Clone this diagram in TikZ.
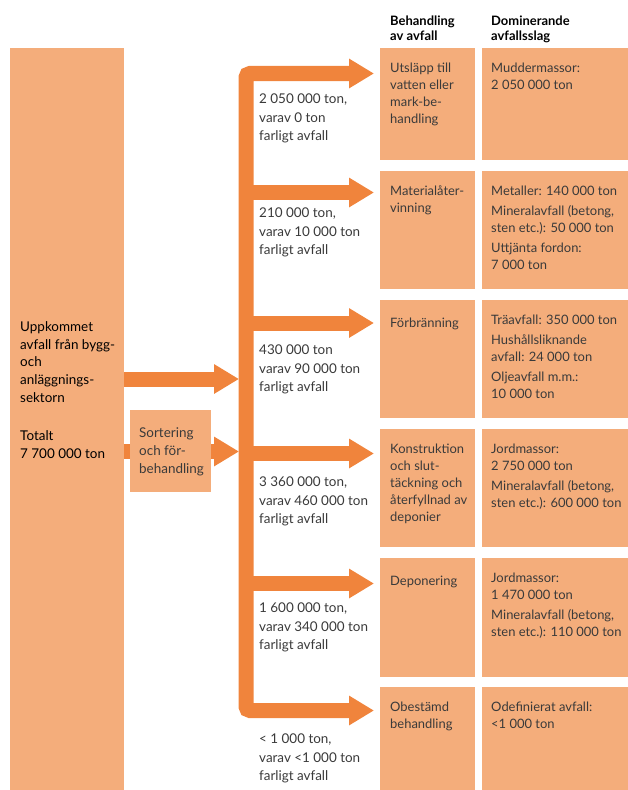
\documentclass[tikz,border=0pt]{standalone}
\usepackage{fontspec}
\setmainfont{Lato}
\usetikzlibrary{arrows.meta}
\definecolor{boxor}{HTML}{F4AD7B}
\definecolor{flowor}{HTML}{F0843C}
\definecolor{txt}{HTML}{3A3A3A}

\begin{document}
\begin{tikzpicture}[x=1bp,y=-1bp,>={Triangle[width=28bp,length=25bp]},
 font=\fontsize{13}{17}\selectfont,
 box/.style={fill=boxor,inner sep=0pt,anchor=north west},
 tx/.style={anchor=north west,inner sep=0pt,align=left,text=txt,execute at begin node=\strut},
 lbl/.style={tx,font=\fontsize{13.5}{18.5}\selectfont},
 head/.style={tx,text=black,font=\fontsize{13}{14.5}\selectfont\bfseries},
 flow/.style={draw=flowor,line width=15bp,->}]
\useasboundingbox (0,0) rectangle (628,790);

\node[box,minimum width=114bp,minimum height=742bp] (src) at (10,48) {};
\foreach \i/\t/\h in {1/48/112,2/171/118,3/300/118,4/429/118,5/558/119,6/687/103} {
  \node[box,minimum width=95bp,minimum height=\h bp] (b\i) at (380,\t) {};
  \node[box,minimum width=146bp,minimum height=\h bp] (d\i) at (482,\t) {};
}
\foreach \i/\y in {1/73.5,2/192.5,3/323,4/453.5,5/583.5,6/710.5}
  \coordinate (j\i) at (246,\y);
\coordinate (in1) at (246,379);
\coordinate (in2) at (246,451.5);

\draw[flow,<->,rounded corners=4bp,shorten <=6bp,shorten >=6bp]
  (j1 -| b1.west) -- (j1) -- (j6) -- (j6 -| b6.west);
\foreach \i in {2,...,5} \draw[flow,shorten >=6bp] (j\i) -- (j\i -| b\i.west);
\foreach \i in {1,2} \draw[flow,shorten >=7bp] (src.east |- in\i) -- (in\i);
\node[box,minimum width=81bp,minimum height=82bp] (sort) at (130,410) {};

\node[head] (h1) at (390,16) {Behandling\\av avfall};
\node[head] (h2) at (491,16) {Dominerande\\avfallsslag};

\node[tx,text=black,font=\fontsize{13.5}{18}\selectfont] (srct) at (20,321)
  {Uppkommet\\avfall från bygg-\\och\\anläggnings-\\sektorn\\[20bp]Totalt\\7 700 000 ton};
\node[lbl] (sortt) at (139,427) {Sortering\\och för-\\behandling};

\node[tx] (b1t) at ([shift={(10,15)}]b1.north west) {Utsläpp till\\vatten eller\\mark-be-\\handling};
\node[tx] (b2t) at ([shift={(10,15)}]b2.north west) {Materialåter-\\vinning};
\node[tx] (b3t) at ([shift={(10,15)}]b3.north west) {Förbränning};
\node[tx] (b4t) at ([shift={(10,15)}]b4.north west) {Konstruktion\\och slut-\\täckning och\\återfyllnad av\\deponier};
\node[tx] (b5t) at ([shift={(10,15)}]b5.north west) {Deponering};
\node[tx] (b6t) at ([shift={(10,15)}]b6.north west) {Obestämd\\behandling};

\node[tx] (d1t) at ([shift={(9,15)}]d1.north west) {Muddermassor:\\2 050 000 ton};
\node[tx] (d2t) at ([shift={(9,15)}]d2.north west)
  {Metaller: 140 000 ton\\[3bp]Mineralavfall (betong,\\sten etc.): 50 000 ton\\[3bp]Uttjänta fordon:\\7 000 ton};
\node[tx] (d3t) at ([shift={(9,15)}]d3.north west)
  {Träavfall: 350 000 ton\\[3bp]Hushållsliknande\\avfall: 24 000 ton\\[3bp]Oljeavfall m.m.:\\10 000 ton};
\node[tx] (d4t) at ([shift={(9,15)}]d4.north west)
  {Jordmassor:\\2 750 000 ton\\[3bp]Mineralavfall (betong,\\sten etc.): 600 000 ton};
\node[tx] (d5t) at ([shift={(9,15)}]d5.north west)
  {Jordmassor:\\1 470 000 ton\\[3bp]Mineralavfall (betong,\\sten etc.): 110 000 ton};
\node[tx] (d6t) at ([shift={(9,15)}]d6.north west) {Odefinierat avfall:\\<1 000 ton};

\foreach \i/\y/\s in {1/94/{2 050 000 ton,\\varav 0 ton},2/208/{210 000 ton,\\varav 10 000 ton},
  3/345/{430 000 ton\\varav 90 000 ton},4/477/{3 360 000 ton,\\varav 460 000 ton},
  5/603/{1 600 000 ton,\\varav 340 000 ton},6/734/{< 1 000 ton,\\varav <1 000 ton}}
  \node[lbl] (l\i) at (259,\y) {\s\\farligt avfall};
\end{tikzpicture}
\end{document}
